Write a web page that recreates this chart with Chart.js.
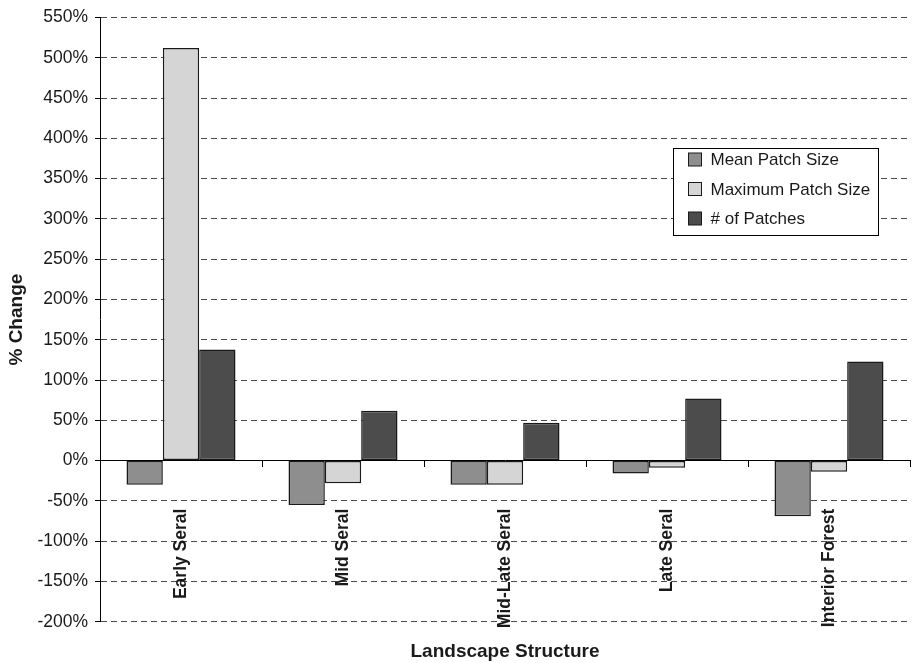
<!DOCTYPE html>
<html>
<head>
<meta charset="utf-8">
<script src="https://cdn.jsdelivr.net/npm/chart.js@4/dist/chart.umd.min.js"></script>
<style>
  html, body { margin: 0; padding: 0; background: #fff; }
  #wrap { width: 913px; height: 663px; position: relative; }
</style>
</head>
<body>
<div id="wrap"><canvas id="c"></canvas></div>
<script>
// Landscape structure classes
const categories = ['Early Seral', 'Mid Seral', 'Mid-Late Seral', 'Late Seral', 'Interior Forest'];

// Percent change per metric
const meanPatchSize = [-30, -55, -30, -16, -69];
const maxPatchSize = [512, -28, -30, -9, -14];
const numPatches = [138, 62, 47, 77, 123];

const seriesNames = ['Mean Patch Size', 'Maximum Patch Size', '# of Patches'];
const seriesColors = ['#8e8e8e', '#d4d5d4', '#4c4c4c'];

const yMin = -200, yMax = 550, yStep = 50;

const FONT = '"Liberation Sans", Arial, Helvetica, sans-serif';
const INK = '#1a1a1a';

// Boxed legend drawn inside the plot area
const boxLegend = {
  id: 'boxLegend',
  afterDraw(chart) {
    const { ctx, chartArea } = chart;
    const x0 = Math.round(chartArea.left + 573) + 0.5;
    const y0 = Math.round(chartArea.top + 130) + 0.5;
    const w = 205, h = 87;
    ctx.save();
    ctx.fillStyle = '#fff';
    ctx.fillRect(x0, y0, w, h);
    ctx.strokeStyle = '#000';
    ctx.lineWidth = 1;
    ctx.strokeRect(x0, y0, w, h);
    ctx.font = '17px ' + FONT;
    ctx.textBaseline = 'middle';
    ctx.textAlign = 'left';
    chart.data.datasets.forEach((ds, i) => {
      const cy = y0 + 11 + i * 29.5;
      ctx.fillStyle = ds.backgroundColor;
      ctx.fillRect(x0 + 15, cy - 6.5, 13, 13);
      ctx.strokeStyle = INK;
      ctx.lineWidth = 1;
      ctx.strokeRect(x0 + 15, cy - 6.5, 13, 13);
      ctx.fillStyle = INK;
      ctx.fillText(ds.label, x0 + 37, cy + 1);
    });
    ctx.restore();
  }
};

const datasets = [meanPatchSize, maxPatchSize, numPatches].map((vals, i) => ({
  label: seriesNames[i],
  data: vals,
  backgroundColor: seriesColors[i],
  borderColor: INK,
  borderWidth: 1.5,
  borderSkipped: false,
  categoryPercentage: 0.673,
  barPercentage: 1.0
}));

new Chart(document.getElementById('c'), {
  type: 'bar',
  data: { labels: categories, datasets },
  plugins: [boxLegend],
  options: {
    responsive: true,
    maintainAspectRatio: false,
    animation: false,
    layout: { padding: { top: 15, right: 3, bottom: 0, left: 0 } },
    plugins: {
      legend: { display: false },
      tooltip: { enabled: false },
      title: {
        display: true,
        position: 'bottom',
        fullSize: false,
        text: 'Landscape Structure',
        color: INK,
        font: { family: FONT, size: 19, weight: 'bold' },
        padding: { top: 18.5, bottom: 0 }
      }
    },
    scales: {
      x: {
        position: { y: 0 },
        offset: true,
        grid: {
          display: true,
          drawOnChartArea: false,
          drawTicks: true,
          tickLength: 6,
          tickColor: '#000',
          offset: true
        },
        border: { display: true, color: '#000', width: 1 },
        ticks: {
          autoSkip: false,
          minRotation: 90,
          maxRotation: 90,
          padding: 42,
          color: INK,
          font: { family: FONT, size: 17.5, weight: 'bold' }
        }
      },
      y: {
        min: yMin,
        max: yMax,
        afterFit(scale) { scale.width = 100; },
        grid: {
          color: ctx => (ctx.tick && ctx.tick.value === 0) ? 'rgba(0,0,0,0)' : '#4a4a4a',
          lineWidth: 1,
          tickLength: 5,
          tickColor: '#000',
          tickBorderDash: []
        },
        border: { display: true, color: '#000', width: 1, dash: [6, 4] },
        ticks: {
          stepSize: yStep,
          padding: 7,
          color: INK,
          font: { family: FONT, size: 17.5 },
          callback: v => v + '%'
        },
        title: {
          display: true,
          text: '% Change',
          color: INK,
          font: { family: FONT, size: 19, weight: 'bold' },
          padding: { top: 5, bottom: 0 }
        }
      }
    }
  }
});
</script>
</body>
</html>
